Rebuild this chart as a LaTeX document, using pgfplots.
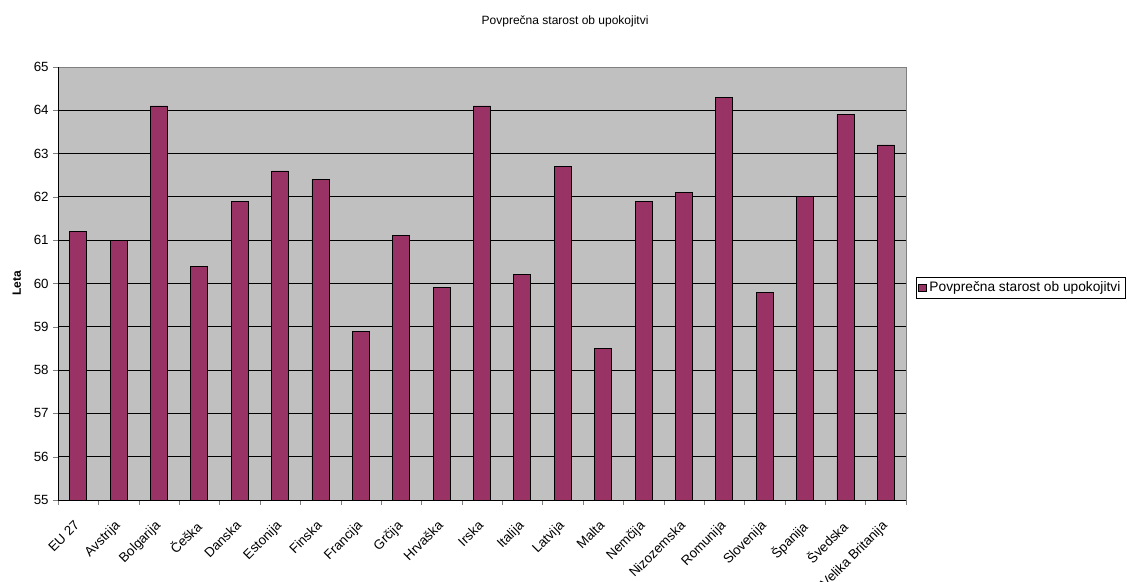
\documentclass[border=0pt]{standalone}
\usepackage{pgfplots}
\pgfplotsset{compat=1.18}
\usepackage{fontspec}
\setmainfont{Liberation Sans}
\definecolor{barc}{RGB}{153,51,102}
\definecolor{bgc}{RGB}{192,192,192}
\begin{document}
\begin{tikzpicture}[x=1pt,y=1pt]
\useasboundingbox (-43.5,-61.5) rectangle (803.25,375);
\begin{axis}[
  at={(0,0)}, anchor=south west,
  scale only axis,
  width=636pt, height=324.75pt,
  xmin=-0.5, xmax=20.5,
  ymin=55, ymax=65,
  ytick={55,56,...,65},
  xtick={0,...,20},
  xticklabels={EU 27, Avstrija, Bolgarija, Češka, Danska, Estonija, Finska, Francija, Grčija, Hrvaška, Irska, Italija, Latvija, Malta, Nemčija, Nizozemska, Romunija, Slovenija, Španija, Švedska, Velika Britanija},
  minor xtick={-0.5,0.5,...,20.5},
  major x tick style={draw=none},
  minor tick length=3.5pt,
  major tick length=3.5pt,
  tick align=outside,
  xtick pos=bottom, ytick pos=left,
  x tick label style={rotate=45, anchor=north east, font=\fontsize{10}{12}\selectfont, xshift=-7pt, yshift=-2pt},
  y tick label style={font=\fontsize{10}{12}\selectfont},
  /pgf/number format/assume math mode=true,
  ymajorgrids, grid style={black, line width=0.6pt},
  axis background/.style={fill=bgc},
  axis line style={draw=gray},
  ylabel={\textbf{Leta}},
  ylabel style={font=\fontsize{9}{11}\selectfont, at={(rel axis cs:-0.038,0.5)}, anchor=south},
  title={Povprečna starost ob upokojitvi},
  title style={font=\fontsize{9}{11}\selectfont, at={(rel axis cs:0.598,1.087)}, anchor=center},
  ybar, bar width=12.75pt,
  legend style={at={(rel axis cs:1.012,0.515)}, anchor=north west, draw=black, fill=white, font=\fontsize{10.3}{12}\selectfont, inner sep=1.5pt},
  legend image code/.code={\draw[#1, draw=black, fill=barc] (0cm,-0.1cm) rectangle (0.2cm,0.1cm);},
  after end axis/.code={
    \draw[black] (rel axis cs:0,0) -- (rel axis cs:0,1);
    \draw[black] (rel axis cs:0,0) -- (rel axis cs:1,0);
  },
]
\addplot[fill=barc, draw=black, line width=0.6pt] coordinates {
 (0,61.2) (1,61.0) (2,64.1) (3,60.4) (4,61.9) (5,62.6) (6,62.4) (7,58.9)
 (8,61.1) (9,59.9) (10,64.1) (11,60.2) (12,62.7) (13,58.5) (14,61.9)
 (15,62.1) (16,64.3) (17,59.8) (18,62.0) (19,63.9) (20,63.2)};
\legend{Povprečna starost ob upokojitvi}
\end{axis}
\end{tikzpicture}
\end{document}
